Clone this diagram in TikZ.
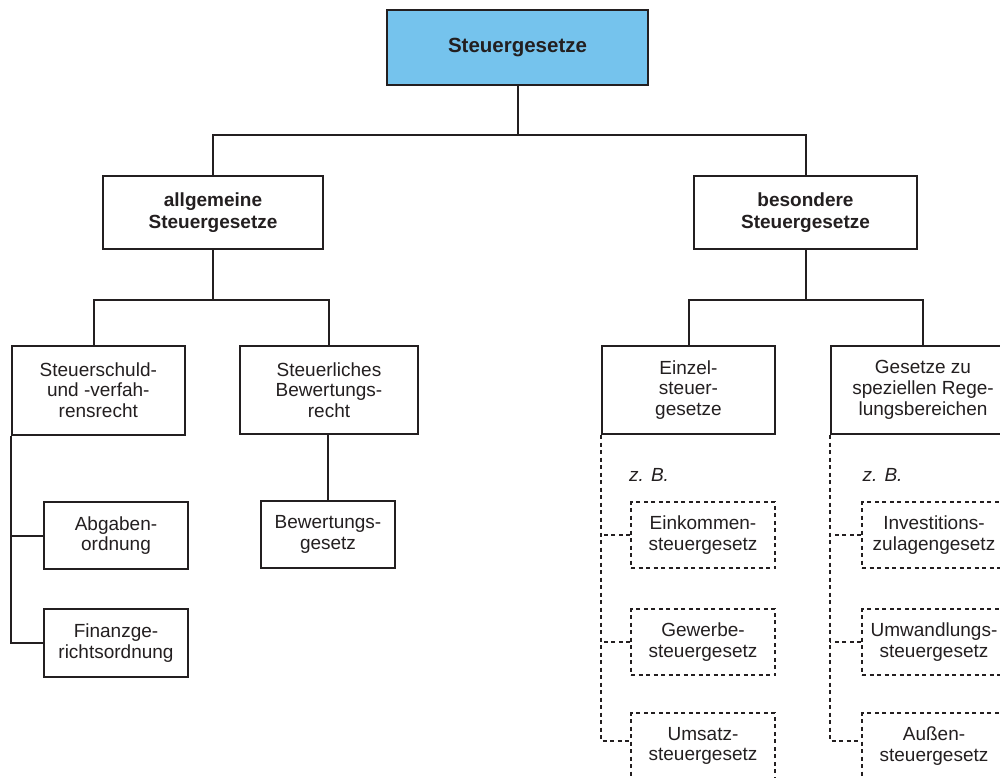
\documentclass[tikz,border=0pt]{standalone}
\usepackage{fontspec}
\setmainfont{Liberation Sans}
\definecolor{ink}{RGB}{35,31,32}
\definecolor{headblue}{RGB}{117,195,237}
\tikzset{
  bx/.style={draw=ink, line width=2pt, align=center, inner sep=0pt,
    text=ink, font=\fontsize{19}{20.7}\selectfont},
  dbx/.style={bx, line width=1.7pt, dash pattern=on 4pt off 3.5pt},
  link/.style={draw=ink, line width=2pt},
  dlink/.style={draw=ink, line width=1.7pt, dash pattern=on 4pt off 3.5pt},
  bfont/.style={font=\fontsize{19}{21.6}\selectfont\bfseries},
  zbfont/.style={anchor=base west, inner sep=0pt, text=ink,
    font=\fontsize{19}{20.7}\selectfont\itshape},
}
\begin{document}
\begin{tikzpicture}[x=1pt, y=-1pt]
\path[use as bounding box] (0,0) rectangle (1000,778);
\clip (0,0) rectangle (1000,778);
\fill[white] (0,0) rectangle (1000,778);

% top level
\node[bx, fill=headblue, minimum width=261pt, minimum height=75pt,
  font=\fontsize{20.5}{23}\selectfont\bfseries] (top) at (517.5,47.5) {Steuergesetze};

% second level
\node[bx, bfont, minimum width=220pt, minimum height=73pt] (allg) at (213,212.5)
  {allgemeine\\Steuergesetze};
\node[bx, bfont, minimum width=223pt, minimum height=73pt] (bes) at (805.5,212.5)
  {besondere\\Steuergesetze};

% third level, general side
\node[bx, minimum width=173pt, minimum height=89pt] (schuld) at (98.3,390)
  {Steuerschuld-\\und -verfah-\\rensrecht};
\node[bx, minimum width=178pt, minimum height=88pt] (bewr) at (329,390)
  {Steuerliches\\Bewertungs-\\recht};
\node[bx, minimum width=144pt, minimum height=67pt] (abg) at (116,535.5)
  {Abgaben-\\ordnung};
\node[bx, minimum width=144pt, minimum height=68pt] (fgo) at (116,643)
  {Finanzge-\\richtsordnung};
\node[bx, minimum width=134pt, minimum height=67pt] (bewg) at (328,534.5)
  {Bewertungs-\\gesetz};

% third level, special side
\node[bx, minimum width=173pt, minimum height=88pt] (einzel) at (688.5,390)
  {Einzel-\\steuer-\\gesetze};
\node[bx, minimum width=184pt, minimum height=88pt] (spez) at (923,390)
  {Gesetze zu\\speziellen Rege-\\lungsbereichen};

% examples
\node[zbfont] (zb1) at (629,481.7) {z. B.};
\node[zbfont] (zb2) at (862.5,481.7) {z. B.};

\node[dbx, minimum width=144pt, minimum height=66pt] (ek) at (703,535)
  {Einkommen-\\steuergesetz};
\node[dbx, minimum width=144pt, minimum height=66pt] (gew) at (703,642)
  {Gewerbe-\\steuergesetz};
\node[dbx, minimum width=144pt, minimum height=66pt] (ums) at (703,746)
  {Umsatz-\\steuergesetz};
\node[dbx, minimum width=144pt, minimum height=66pt] (inv) at (934,535)
  {Investitions-\\zulagengesetz};
\node[dbx, minimum width=144pt, minimum height=66pt] (umw) at (934,642)
  {Umwandlungs-\\steuergesetz};
\node[dbx, minimum width=144pt, minimum height=66pt] (aus) at (934,746)
  {Außen-\\steuergesetz};

% bus lines
\coordinate (bus1) at (0,135);
\coordinate (bus2) at (0,300);

\draw[link] (top.south) -- (top.south |- bus1);
\draw[link] (allg.north) -- (allg.north |- bus1) -- (bes.north |- bus1) -- (bes.north);

\draw[link] (allg.south) -- (allg.south |- bus2);
\draw[link] ([xshift=-4pt]schuld.north) -- ([xshift=-4pt]schuld.north |- bus2)
  -- (bewr.north |- bus2) -- (bewr.north);

\draw[link] (bes.south) -- (bes.south |- bus2);
\draw[link] (einzel.north) -- (einzel.north |- bus2) -- (spez.north |- bus2) -- (spez.north);

% general side branches
\draw[link] (schuld.south west) |- (fgo.west);
\draw[link] (abg.west) -- (abg.west -| schuld.south west);
\draw[link] (bewg.north) -- (bewg.north |- bewr.south);

% example branches
\draw[dlink] (einzel.south west) |- ([yshift=5pt]ums.west);
\draw[dlink] (ek.west) -- (ek.west -| einzel.south west);
\draw[dlink] (gew.west) -- (gew.west -| einzel.south west);
\draw[dlink] (spez.south west) |- ([yshift=5pt]aus.west);
\draw[dlink] (inv.west) -- (inv.west -| spez.south west);
\draw[dlink] (umw.west) -- (umw.west -| spez.south west);
\end{tikzpicture}
\end{document}
